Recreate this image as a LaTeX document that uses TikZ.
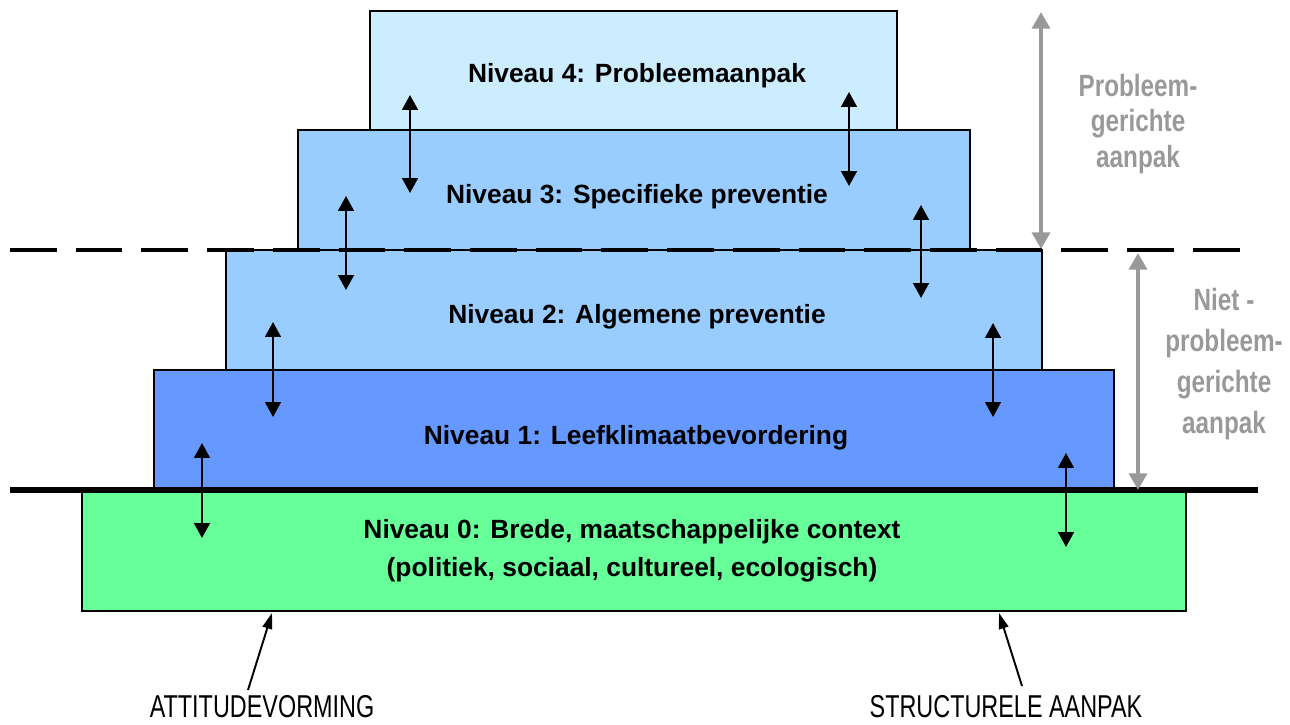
\documentclass[tikz,border=0pt]{standalone}
\usepackage{fontspec}
\setmainfont{Liberation Sans}
\newfontfamily\condfont[FakeStretch=0.79]{Liberation Sans}
\newfontfamily\narrowfont[FakeStretch=0.74]{Liberation Sans}
\usetikzlibrary{arrows.meta}
\definecolor{lvfour}{HTML}{CCECFF}
\definecolor{lvthree}{HTML}{99CCFF}
\definecolor{lvone}{HTML}{6699FF}
\definecolor{lvzero}{HTML}{66FF99}
\definecolor{grayc}{HTML}{999999}
\tikzset{
  box/.style={draw=black, line width=1.1pt, inner sep=0pt, outer sep=0pt},
  lvtext/.style={font=\bfseries\fontsize{15}{21.5}\selectfont, align=center, inner sep=0pt},
  dbl/.style={line width=1.1pt, {Triangle[length=8.5pt,width=9pt]}-{Triangle[length=8.5pt,width=9pt]}},
  grayarr/.style={draw=grayc, line width=2.8pt, {Triangle[length=9.4pt,width=10pt]}-{Triangle[length=9.4pt,width=10pt]}},
  graytext/.style={text=grayc, align=center, inner sep=0pt},
  botarr/.style={line width=1.1pt, -{Triangle[length=9pt,width=5.5pt]}},
  bottext/.style={font=\narrowfont\fontsize{18}{20}\selectfont, inner sep=0pt}
}
\begin{document}
\begin{tikzpicture}[x=0.02cm,y=-0.02cm]
\useasboundingbox (0,0) rectangle (1290,724);
% boxes
\node[box, fill=lvzero, minimum width=22.08cm, minimum height=2.42cm] (L0) at (634,550.5) {};
\node[box, fill=lvone, minimum width=19.2cm, minimum height=2.4cm] (L1) at (634,430) {};
\node[box, fill=lvthree, minimum width=16.32cm, minimum height=2.4cm] (L2) at (634,310) {};
\node[box, fill=lvthree, minimum width=13.44cm, minimum height=2.4cm] (L3) at (634,190) {};
\node[box, fill=lvfour, minimum width=10.54cm, minimum height=2.38cm] (L4) at (633.5,70.5) {};
% texts
\node[lvtext] (t4) at (637,76) {Niveau 4: Probleemaanpak};
\node[lvtext] (t3) at (637,197) {Niveau 3: Specifieke preventie};
\node[lvtext] (t2) at (637,317) {Niveau 2: Algemene preventie};
\node[lvtext] (t1) at (636,438) {Niveau 1: Leefklimaatbevordering};
\node[lvtext] (t0) at (632,551) {Niveau 0: Brede, maatschappelijke context\\(politiek, sociaal, cultureel, ecologisch)};
% separator lines
\coordinate (s1) at (10,490);
\coordinate (s2) at (1258,490);
\draw[line width=3.4pt] (s1) -- (s2);
\coordinate (d1) at (10,250);
\coordinate (d2) at (1248,250);
\draw[line width=2.8pt, dash pattern=on 26.6pt off 10.8pt] (d1) -- (d2);
% double arrows
\coordinate (a4a) at (410,95);  \coordinate (a4b) at (410,193);
\coordinate (a4c) at (849,92);  \coordinate (a4d) at (849,186);
\coordinate (a3a) at (346,196); \coordinate (a3b) at (346,290);
\coordinate (a3c) at (921,205); \coordinate (a3d) at (921,298);
\coordinate (a2a) at (273,322); \coordinate (a2b) at (273,417);
\coordinate (a2c) at (993,323); \coordinate (a2d) at (993,417);
\coordinate (a1a) at (202,443); \coordinate (a1b) at (202,538);
\coordinate (a1c) at (1066,453); \coordinate (a1d) at (1066,547);
\draw[dbl] (a4a) -- (a4b);
\draw[dbl] (a4c) -- (a4d);
\draw[dbl] (a3a) -- (a3b);
\draw[dbl] (a3c) -- (a3d);
\draw[dbl] (a2a) -- (a2b);
\draw[dbl] (a2c) -- (a2d);
\draw[dbl] (a1a) -- (a1b);
\draw[dbl] (a1c) -- (a1d);
% gray arrows
\coordinate (g1a) at (1041,12);  \coordinate (g1b) at (1041,249);
\coordinate (g2a) at (1138,253); \coordinate (g2b) at (1138,490);
\draw[grayarr] (g1a) -- (g1b);
\draw[grayarr] (g2a) -- (g2b);
\node[graytext, font=\condfont\bfseries\fontsize{17.5}{20.4}\selectfont] (gt1) at (1138,124) {Probleem-\\gerichte\\aanpak};
\node[graytext, font=\condfont\bfseries\fontsize{17.5}{23.2}\selectfont] (gt2) at (1224,364) {Niet -\\probleem-\\gerichte\\aanpak};
% bottom labels
\node[bottext] (att) at (262,707) {ATTITUDEVORMING};
\node[bottext] (str) at (1006,707) {STRUCTURELE AANPAK};
\coordinate (b1a) at (248,690); \coordinate (b1b) at (272,613);
\coordinate (b2a) at (1022,686); \coordinate (b2b) at (999,613);
\draw[botarr] (b1a) -- (b1b);
\draw[botarr] (b2a) -- (b2b);
\end{tikzpicture}
\end{document}
